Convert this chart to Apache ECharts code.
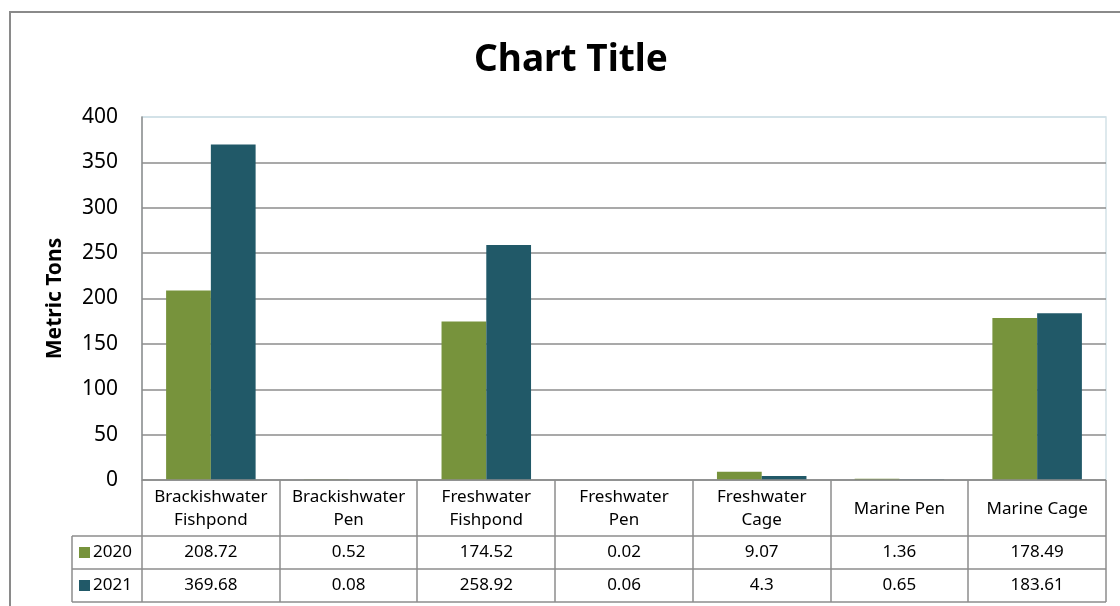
<!DOCTYPE html>
<html>
<head>
<meta charset="utf-8">
<script src="https://cdn.jsdelivr.net/npm/echarts@6/dist/echarts.min.js"></script>
<style>
  html, body { margin: 0; padding: 0; background: #fff; }
  #chart { width: 1120px; height: 606px; }
</style>
</head>
<body>
<div id="chart"></div>
<script>
// data
var categories = ['Brackishwater\nFishpond', 'Brackishwater\nPen', 'Freshwater\nFishpond', 'Freshwater\nPen', 'Freshwater\nCage', 'Marine Pen', 'Marine Cage'];
var years = ['2020', '2021'];
var values2020 = [208.72, 0.52, 174.52, 0.02, 9.07, 1.36, 178.49];
var values2021 = [369.68, 0.08, 258.92, 0.06, 4.3, 0.65, 183.61];
var yTicks = [0, 50, 100, 150, 200, 250, 300, 350, 400];

var colors = ['#77933C', '#215968'];
var font = 'Noto Sans';
var lineColor = '#8c8c8c';

var chart = echarts.init(document.getElementById('chart'));

// grid / table geometry
var gL = 142, gR = 14, gT = 117, gB = 126;
var W = 1120;
var axisY = 606 - gB;          // y of the zero line
var colW = (W - gL - gR) / categories.length;
var rowY = [axisY, 536, 569, 602];
var legendLeft = 72;
var tableRight = W - gR;

var graphics = [];
// outer chart frame
graphics.push({ type: 'rect', shape: { x: 10, y: 12, width: 1200, height: 700 },
  style: { fill: null, stroke: '#8a8a8a', lineWidth: 2 }, silent: true });
// title
graphics.push({ type: 'text', x: 571, y: 60,
  style: { text: 'Chart Title', font: 'bold 37px "' + font + '"', fill: '#000', align: 'center', verticalAlign: 'middle' } });

// horizontal table lines
for (var r = 0; r < rowY.length; r++) {
  var x0 = r === 0 ? gL : legendLeft;
  graphics.push({ type: 'line', shape: { x1: x0, y1: rowY[r], x2: tableRight, y2: rowY[r] },
    style: { stroke: lineColor, lineWidth: 1.5 }, z: 10 });
}
// vertical table lines
graphics.push({ type: 'line', shape: { x1: legendLeft, y1: rowY[1], x2: legendLeft, y2: rowY[3] },
  style: { stroke: lineColor, lineWidth: 1.5 }, z: 10 });
for (var c = 0; c <= categories.length; c++) {
  var xc = Math.round(gL + c * colW);
  graphics.push({ type: 'line', shape: { x1: xc, y1: rowY[0], x2: xc, y2: rowY[3] },
    style: { stroke: lineColor, lineWidth: 1.5 }, z: 10 });
}
// header cells
categories.forEach(function (name, i) {
  graphics.push({ type: 'text', x: gL + (i + 0.5) * colW, y: (rowY[0] + rowY[1]) / 2 + 1,
    style: { text: name, font: '17px "' + font + '"', fill: '#000', align: 'center', verticalAlign: 'middle', lineHeight: 23 } });
});
// value rows
[values2020, values2021].forEach(function (vals, r) {
  var yc = (rowY[r + 1] + rowY[r + 2]) / 2;
  graphics.push({ type: 'rect', shape: { x: 79, y: yc - 5.5, width: 11, height: 11 }, style: { fill: colors[r] } });
  graphics.push({ type: 'text', x: 93, y: yc,
    style: { text: years[r], font: '17px "' + font + '"', fill: '#000', align: 'left', verticalAlign: 'middle' } });
  vals.forEach(function (v, i) {
    graphics.push({ type: 'text', x: gL + (i + 0.5) * colW, y: yc,
      style: { text: String(v), font: '17px "' + font + '"', fill: '#000', align: 'center', verticalAlign: 'middle' } });
  });
});

var splitColors = yTicks.map(function (t, i) { return i === yTicks.length - 1 ? '#cfdfe6' : lineColor; });

var option = {
  animation: false,
  backgroundColor: '#fff',
  textStyle: { fontFamily: font },
  grid: { left: gL, right: gR, top: gT, bottom: gB, show: true, borderColor: '#d3e2e8', borderWidth: 1.5, containLabel: false },
  xAxis: {
    type: 'category',
    data: categories,
    axisLine: { show: false },
    axisTick: { show: false },
    axisLabel: { show: false },
    splitLine: { show: false }
  },
  yAxis: {
    type: 'value',
    min: yTicks[0],
    max: yTicks[yTicks.length - 1],
    interval: 50,
    name: 'Metric Tons',
    nameLocation: 'middle',
    nameRotate: 90,
    nameGap: 76,
    nameTextStyle: { fontFamily: font, fontSize: 21, fontWeight: 'bold', color: '#000' },
    axisLine: { show: true, lineStyle: { color: lineColor, width: 1.5 } },
    axisTick: { show: false },
    axisLabel: { fontFamily: font, fontSize: 21, color: '#000', margin: 24 },
    splitLine: { show: true, lineStyle: { color: splitColors, width: 1.5 } }
  },
  series: [
    { name: years[0], type: 'bar', data: values2020, barGap: '0%', barCategoryGap: '35%',
      itemStyle: { color: colors[0] } },
    { name: years[1], type: 'bar', data: values2021, barGap: '0%', barCategoryGap: '35%',
      itemStyle: { color: colors[1] } }
  ],
  graphic: graphics
};

chart.setOption(option);
</script>
</body>
</html>
